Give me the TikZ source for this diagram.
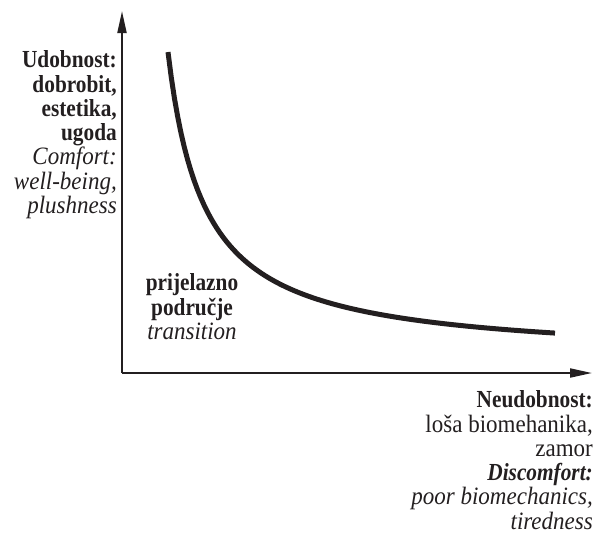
\documentclass[tikz,border=0pt]{standalone}
\usepackage{fontspec}
\setmainfont{Liberation Serif}[FakeStretch=0.92]
\newfontfamily\narrowbold{Liberation Serif}[FakeStretch=0.87]
\usetikzlibrary{arrows.meta}
\definecolor{inkcolor}{HTML}{231F20}
\newcommand{\boldline}[1]{{\narrowbold\fontsize{24.5}{24.3}\selectfont\bfseries #1}}

\begin{document}
\begin{tikzpicture}[x=1pt, y=-1pt,
    axisline/.style={draw=inkcolor, line width=2pt, -{Triangle[length=22pt, width=9pt]}},
    blocktext/.style={inner sep=0pt, text=inkcolor, font=\fontsize{25}{24.3}\selectfont}]
    \useasboundingbox (0,0) rectangle (595,539);

    % Axes
    \coordinate (O) at (122,373);
    \coordinate (ytip) at (122,11);
    \coordinate (xtip) at (592,373);
    \draw[axisline] (O) -- (ytip);
    \draw[axisline] (O) -- (xtip);

    % Comfort curve
    \draw[inkcolor, line width=5pt] plot[domain=168:555, samples=120] (\x, {359.5-11191/(\x-131.6)});

    % Labels
    \node[blocktext, align=right, anchor=north east] (comfort) at (117,50.5)
        {\boldline{Udobnost:}\\ \boldline{dobrobit,}\\ \boldline{estetika,}\\ \boldline{ugoda}\\
         \textit{Comfort:}\\ \textit{well-being,}\\ \textit{plushness}};
    \node[blocktext, align=center, anchor=north] (transition) at (192,273.5)
        {\boldline{prijelazno}\\ \boldline{područje}\\ \textit{transition}};
    \node[blocktext, align=right, anchor=north east] (discomfort) at (593,390.5)
        {\boldline{Neudobnost:}\\ loša biomehanika,\\ zamor\\ \boldline{\textit{Discomfort:}}\\
         \textit{poor biomechanics,}\\ \textit{tiredness}};
\end{tikzpicture}
\end{document}
